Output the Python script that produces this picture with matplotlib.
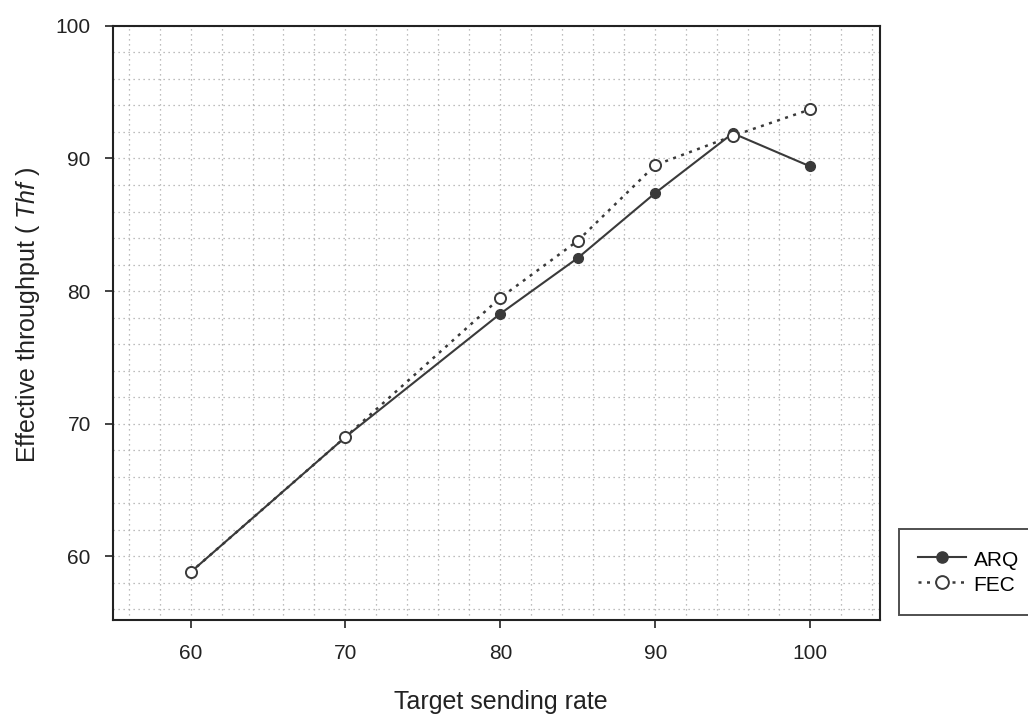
import matplotlib
matplotlib.use('Agg')
import matplotlib.pyplot as plt
import matplotlib.ticker as ticker

# data
rates = [60, 70, 80, 85, 90, 95, 100]
arq = [58.8, 69.0, 78.3, 82.5, 87.4, 91.9, 89.4]
fec = [58.8, 69.0, 79.5, 83.8, 89.5, 91.7, 93.7]

plt.rcParams['font.family'] = ['Liberation Sans', 'DejaVu Sans']
plt.rcParams['mathtext.fontset'] = 'custom'
plt.rcParams['mathtext.it'] = 'Liberation Sans:italic'
plt.rcParams['mathtext.rm'] = 'Liberation Sans'

fig = plt.figure(figsize=(10.28, 7.18), dpi=100)
ax = fig.add_axes([0.110, 0.1365, 0.746, 0.8275])

line_col = '#3a3a3a'
ax.plot(rates, arq, color=line_col, linestyle='-', linewidth=1.5,
        marker='o', markersize=7, markerfacecolor=line_col, markeredgecolor=line_col,
        label='ARQ', zorder=3)
ax.plot(rates, fec, color=line_col, linestyle=(0, (1.2, 2.2)), linewidth=1.8,
        marker='o', markersize=8, markerfacecolor='white', markeredgecolor=line_col,
        markeredgewidth=1.4, label='FEC', zorder=4)

ax.set_xlim(55, 104.5)
ax.set_ylim(55.2, 100)
ax.xaxis.set_major_locator(ticker.FixedLocator([60, 70, 80, 90, 100]))
ax.yaxis.set_major_locator(ticker.MultipleLocator(10))
ax.xaxis.set_minor_locator(ticker.MultipleLocator(2))
ax.yaxis.set_minor_locator(ticker.MultipleLocator(2))
ax.tick_params(which='major', direction='out', length=6, width=1.2, labelsize=15,
               colors='#222222')
ax.tick_params(axis='x', pad=11)
ax.tick_params(axis='y', pad=10)
ax.tick_params(which='minor', length=0)
ax.grid(True, which='both', color='#a8a8a8', linestyle=(0, (1, 3)), linewidth=0.9)
ax.set_axisbelow(True)

for s in ax.spines.values():
    s.set_linewidth(1.5)
    s.set_color('#222222')

ax.set_xlabel('Target sending rate', fontsize=18, color='#222222')
ax.set_ylabel('Effective throughput ( $Thf$ )', fontsize=18, color='#222222')
ax.xaxis.set_label_coords(0.506, -0.118)
ax.yaxis.set_label_coords(-0.093, 0.513)

leg = fig.legend(loc='lower left', bbox_to_anchor=(0.870, 0.138), fontsize=15,
                 frameon=True, fancybox=False, edgecolor='#222222', handlelength=2.3,
                 handleheight=1.2, borderpad=0.95, labelspacing=0.15, handletextpad=0.35,
                 borderaxespad=0.2, markerscale=1.15)
leg.get_frame().set_linewidth(1.4)

fig.savefig('out.png', dpi=100)
